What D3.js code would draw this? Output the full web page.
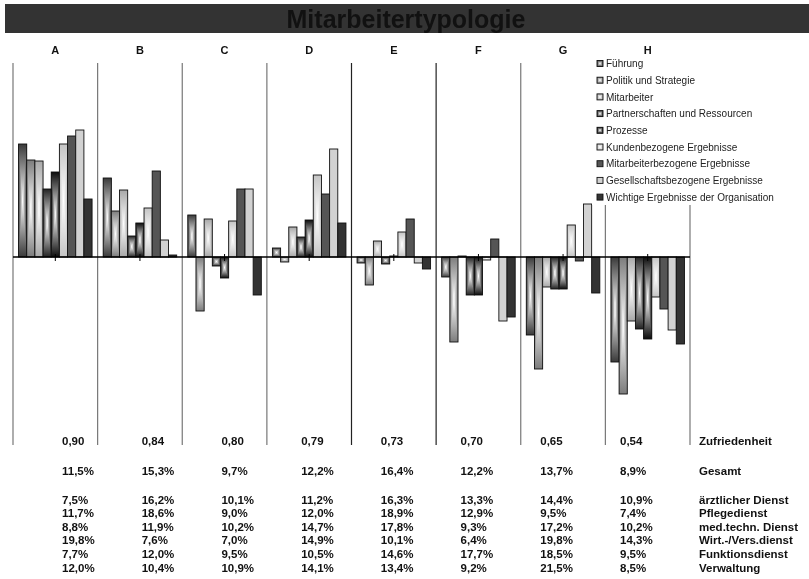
<!DOCTYPE html>
<html>
<head>
<meta charset="utf-8">
<script src="https://cdn.jsdelivr.net/npm/d3@7"></script>
<style>
  html, body { margin: 0; padding: 0; background: #fff; }
  svg { display: block; font-family: "Liberation Sans", Arial, sans-serif; }
  .blend { mix-blend-mode: darken; }
</style>
</head>
<body>
<svg id="chart" width="809" height="579"></svg>
<script>
// Mitarbeitertypen A–H
const groups = ["A", "B", "C", "D", "E", "F", "G", "H"];

// EFQM-Kriterien (Abweichung vom Mittel je Typ)
const criteria = [
  "Führung", "Politik und Strategie", "Mitarbeiter", "Partnerschaften und Ressourcen",
  "Prozesse", "Kundenbezogene Ergebnisse", "Mitarbeiterbezogene Ergebnisse",
  "Gesellschaftsbezogene Ergebnisse", "Wichtige Ergebnisse der Organisation"
];
const fuehrung   = [1.13, 0.79, 0.42, 0.09, -0.06, -0.20, -0.78, -1.05];
const politik    = [0.97, 0.46, -0.54, -0.05, -0.28, -0.85, -1.12, -1.37];
const mitarbeiter= [0.96, 0.67, 0.38, 0.30, 0.16, 0.01, -0.30, -0.64];
const partner    = [0.68, 0.21, -0.09, 0.20, -0.07, -0.38, -0.32, -0.72];
const prozesse   = [0.85, 0.34, -0.21, 0.37, 0.01, -0.38, -0.32, -0.82];
const kunden     = [1.13, 0.49, 0.36, 0.82, 0.25, -0.03, 0.32, -0.40];
const mitarbErg  = [1.21, 0.86, 0.68, 0.63, 0.38, 0.18, -0.04, -0.52];
const gesellErg  = [1.27, 0.17, 0.68, 1.08, -0.06, -0.64, 0.53, -0.73];
const wichtigErg = [0.58, 0.02, -0.38, 0.34, -0.12, -0.60, -0.36, -0.87];
const seriesValues = [fuehrung, politik, mitarbeiter, partner, prozesse, kunden, mitarbErg, gesellErg, wichtigErg];

// Tabelle unter dem Diagramm
const zufriedenheit = [0.90, 0.84, 0.80, 0.79, 0.73, 0.70, 0.65, 0.54];
const gesamt        = [11.5, 15.3, 9.7, 12.2, 16.4, 12.2, 13.7, 8.9];
const dienstLabels  = ["ärztlicher Dienst", "Pflegedienst", "med.techn. Dienst", "Wirt.-/Vers.dienst", "Funktionsdienst", "Verwaltung"];
const aerztlich     = [7.5, 16.2, 10.1, 11.2, 16.3, 13.3, 14.4, 10.9];
const pflege        = [11.7, 18.6, 9.0, 12.0, 18.9, 12.9, 9.5, 7.4];
const medtech       = [8.8, 11.9, 10.2, 14.7, 17.8, 9.3, 17.2, 10.2];
const wirtVers      = [19.8, 7.6, 7.0, 14.9, 10.1, 6.4, 19.8, 14.3];
const funktion      = [7.7, 12.0, 9.5, 10.5, 14.6, 17.7, 18.5, 9.5];
const verwaltung    = [12.0, 10.4, 10.9, 14.1, 13.4, 9.2, 21.5, 8.5];
const dienstValues  = [aerztlich, pflege, medtech, wirtVers, funktion, verwaltung];

// Füllungen: "edge" = Verlauf vom Rand zur weißen Mitte, "solid" = Vollfarbe
const fills = [
  { type: "edge", color: "#3a3a3a" },
  { type: "edge", color: "#7c7c7c" },
  { type: "edge", color: "#a8a8a8" },
  { type: "edge", color: "#232323" },
  { type: "edge", color: "#0c0c0c" },
  { type: "edge", color: "#c4c4c4" },
  { type: "solid", color: "#555555" },
  { type: "solid", color: "#d2d2d2" },
  { type: "solid", color: "#333333" }
];

const de = d3.formatLocale({ decimal: ",", thousands: ".", grouping: [3], currency: ["", " €"] });
const fmt2 = de.format(".2f");
const fmtPct = v => de.format(".1f")(v) + "%";

const svg = d3.select("#chart");
const defs = svg.append("defs");

fills.forEach((f, i) => {
  if (f.type !== "edge") return;
  [["h", 1, 0], ["v", 0, 1]].forEach(([k, x2, y2]) => {
    const g = defs.append("linearGradient").attr("id", `g${k}${i}`)
      .attr("x1", 0).attr("y1", 0).attr("x2", x2).attr("y2", y2);
    g.append("stop").attr("offset", 0).attr("stop-color", f.color);
    g.append("stop").attr("offset", 0.5).attr("stop-color", "#ffffff");
    g.append("stop").attr("offset", 1).attr("stop-color", f.color);
  });
});

// Skalen
const x0 = d3.scaleBand().domain(groups).range([13, 690]).padding(0);
const x1 = d3.scaleBand().domain(d3.range(criteria.length)).range([0, x0.bandwidth()])
  .paddingInner(0).paddingOuter(0.68);
const y = d3.scaleLinear().domain([-1.88, 1.92]).range([445, 65]);
const tableX = d3.scalePoint().domain(groups).range([62, 620]);

// Titelbalken
svg.append("rect").attr("x", 5).attr("y", 4).attr("width", 804).attr("height", 29).attr("fill", "#333333");
svg.append("text").attr("x", 406).attr("y", 27.5).attr("text-anchor", "middle")
  .attr("font-size", 25).attr("font-weight", "bold").attr("fill", "#111111")
  .text("Mitarbeitertypologie");

// Gruppenbuchstaben
svg.append("g").selectAll("text").data(groups).join("text")
  .attr("x", d => x0(d) + x0.bandwidth() / 2).attr("y", 54)
  .attr("text-anchor", "middle").attr("font-size", 11).attr("font-weight", "bold").attr("fill", "#111")
  .text(d => d);

// Trennlinien zwischen den Typen
const dividers = groups.map(g => x0(g)).concat([x0.range()[1]]);
svg.append("g").selectAll("line").data(dividers).join("line")
  .attr("x1", d => d).attr("x2", d => d)
  .attr("y1", y.range()[1] - 2).attr("y2", y.range()[0])
  .attr("stroke", (d, i) => (i === 4 || i === 5) ? "#222" : "#777")
  .attr("stroke-width", 1.2);

// Balken
const barData = [];
groups.forEach((g, gi) => seriesValues.forEach((arr, si) => barData.push({ g, si, v: arr[gi] })));

const bars = svg.append("g").selectAll("g").data(barData).join("g");
const bx = d => x0(d.g) + x1(d.si);
const by = d => Math.min(y(0), y(d.v));
const bh = d => Math.max(Math.abs(y(d.v) - y(0)), 0.8);
bars.append("rect")
  .attr("x", bx).attr("y", by).attr("width", x1.bandwidth()).attr("height", bh)
  .attr("fill", d => fills[d.si].type === "edge" ? `url(#gh${d.si})` : fills[d.si].color);
bars.filter(d => fills[d.si].type === "edge").append("rect")
  .attr("class", "blend")
  .attr("x", bx).attr("y", by).attr("width", x1.bandwidth()).attr("height", bh)
  .attr("fill", d => `url(#gv${d.si})`);
bars.append("rect")
  .attr("x", bx).attr("y", by).attr("width", x1.bandwidth()).attr("height", bh)
  .attr("fill", "none").attr("stroke", "#111").attr("stroke-width", 0.9);

// Nulllinie mit Markierungen
svg.append("line").attr("x1", x0.range()[0]).attr("x2", x0.range()[1])
  .attr("y1", y(0)).attr("y2", y(0)).attr("stroke", "#000").attr("stroke-width", 1.3);
svg.append("g").selectAll("line").data(groups).join("line")
  .attr("x1", d => x0(d) + x0.bandwidth() / 2).attr("x2", d => x0(d) + x0.bandwidth() / 2)
  .attr("y1", y(0) - 3).attr("y2", y(0) + 4).attr("stroke", "#000").attr("stroke-width", 1);

// Legende
const legend = svg.append("g");
legend.append("rect").attr("x", 592).attr("y", 56).attr("width", 208).attr("height", 149).attr("fill", "#fff");
const li = legend.selectAll("g").data(criteria).join("g")
  .attr("transform", (d, i) => `translate(597, ${63.5 + i * 16.7})`);
li.append("rect").attr("x", 0).attr("y", -3).attr("width", 6).attr("height", 6)
  .attr("fill", (d, i) => fills[i].type === "edge" ? `url(#gh${i})` : fills[i].color);
li.filter((d, i) => fills[i].type === "edge").append("rect").attr("class", "blend")
  .attr("x", 0).attr("y", -3).attr("width", 6).attr("height", 6)
  .attr("fill", (d, i) => `url(#gv${i})`);
li.append("rect").attr("x", 0).attr("y", -3).attr("width", 6).attr("height", 6)
  .attr("fill", "none").attr("stroke", "#111").attr("stroke-width", 0.9);
li.append("text").attr("x", 9).attr("y", 3.6).attr("font-size", 10).attr("fill", "#222").text(d => d);

// Tabelle
const table = svg.append("g").attr("font-weight", "bold").attr("font-size", 11.5).attr("fill", "#111");
const labelX = 699;
function tableRow(values, format, label, baseline) {
  table.append("g").selectAll("text").data(values).join("text")
    .attr("x", (d, i) => tableX(groups[i])).attr("y", baseline).text(format);
  table.append("text").attr("x", labelX).attr("y", baseline).text(label);
}
tableRow(zufriedenheit, fmt2, "Zufriedenheit", 445);
tableRow(gesamt, fmtPct, "Gesamt", 474.5);
dienstValues.forEach((vals, i) => tableRow(vals, fmtPct, dienstLabels[i], 503.5 + i * 13.6));
</script>
</body>
</html>
